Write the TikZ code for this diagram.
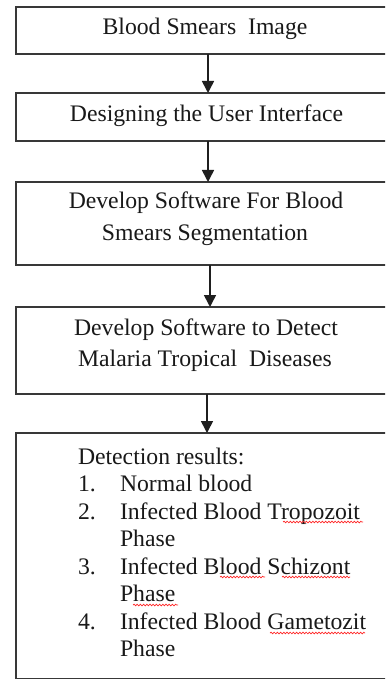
\documentclass[tikz,border=0pt]{standalone}
\usepackage{fontspec}
\setmainfont{Liberation Serif}
\usetikzlibrary{arrows.meta,decorations.pathmorphing}
\tikzset{
  box/.style={draw=black!78, line width=1.6pt, rectangle, inner sep=0pt, outer sep=0pt, anchor=north west, minimum width=380pt},
  txt/.style={font=\fontsize{23.7}{28}\selectfont, inner sep=0pt, outer sep=0pt, anchor=base, text=black!90},
  ltxt/.style={txt, anchor=base west},
  arr/.style={draw=black!88, line width=1.6pt, -{Triangle[length=12pt,width=12pt]}},
  spell/.style={draw=red!85, line width=0.7pt, decorate, decoration={snake, segment length=3.2pt, amplitude=0.8pt}}
}
\begin{document}
\begin{tikzpicture}[x=1pt,y=-1pt]
\useasboundingbox (0,0) rectangle (385,679);
\clip (0,0) rectangle (385,679);
\fill[white] (0,0) rectangle (385,679);

% boxes
\node[box, minimum height=47pt] (b1) at (16,7) {};
\node[box, minimum height=48pt] (b2) at (16,93) {};
\node[box, minimum height=83pt] (b3) at (16,182) {};
\node[box, minimum height=87pt] (b4) at (16,307) {};
\node[box, minimum height=245.5pt] (b5) at (16,433) {};

% texts
\node[txt] (t1) at (205,35) {Blood Smears\ \ Image};
\node[txt] (t2) at (206.5,122) {Designing the User Interface};
\node[txt] (t3a) at (206,208) {Develop Software For Blood};
\node[txt] (t3b) at (205,240) {Smears Segmentation};
\node[txt] (t4a) at (206,335) {Develop Software to Detect};
\node[txt] (t4b) at (205,366) {Malaria Tropical\ \ Diseases};

\node[ltxt] (r0) at (78,464) {Detection results:};
\node[ltxt] (n1) at (78,491.5) {1.};
\node[ltxt] (r1) at (120,491.5) {Normal blood};
\node[ltxt] (n2) at (78,519) {2.};
\node[ltxt] (r2) at (120,519) {Infected Blood Tropozoit};
\node[ltxt] (r2b) at (120,546.5) {Phase};
\node[ltxt] (n3) at (78,574) {3.};
\node[ltxt] (r3) at (120,574) {Infected Blood Schizont};
\node[ltxt] (r3b) at (120,601.5) {Phase};
\node[ltxt] (n4) at (78,629) {4.};
\node[ltxt] (r4) at (120,629) {Infected Blood Gametozit};
\node[ltxt] (r4b) at (120,656.5) {Phase};

% spell-check squiggles
\draw[spell] (283,522) -- (363,522);
\draw[spell] (220,577) -- (265,577);
\draw[spell] (282,577) -- (350,577);
\draw[spell] (133,605) -- (178,605);
\draw[spell] (270,633) -- (365,633);

% arrows
\draw[arr] ([xshift=2pt]b1.south) -- ([xshift=2pt]b2.north);
\draw[arr] ([xshift=2pt]b2.south) -- ([xshift=2pt]b3.north);
\draw[arr] ([xshift=4pt]b3.south) -- ([xshift=4pt]b4.north);
\draw[arr] ([xshift=1pt]b4.south) -- ([xshift=1pt]b5.north);
\end{tikzpicture}
\end{document}
